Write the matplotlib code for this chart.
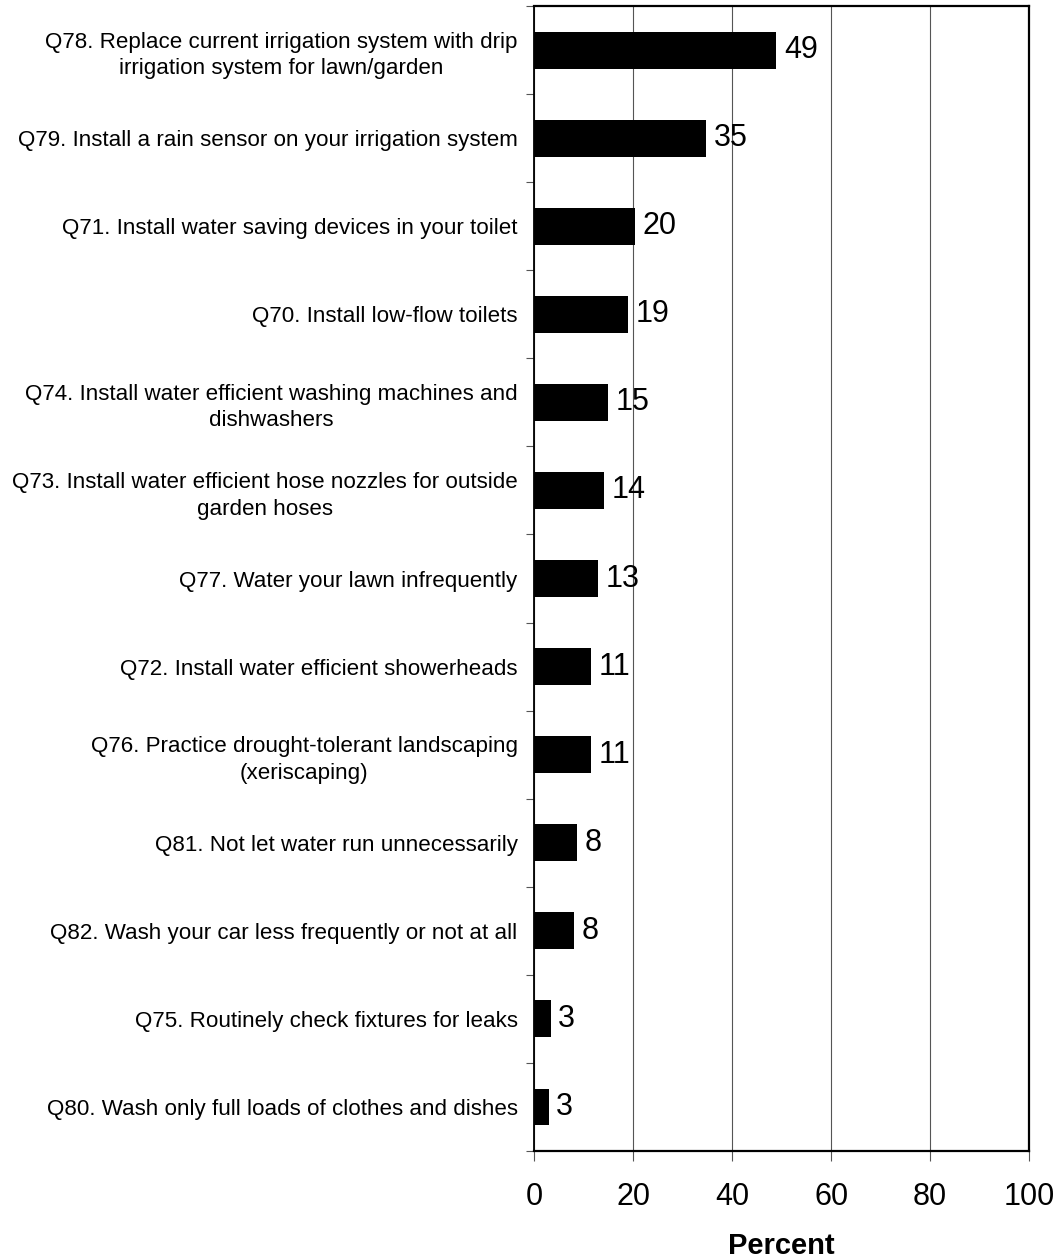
import numpy as np
import matplotlib
matplotlib.use('Agg')
import matplotlib.pyplot as plt
from matplotlib.ticker import FixedLocator


# survey items, top to bottom
questions = [
    'Q78. Replace current irrigation system with drip\nirrigation system for lawn/garden',
    'Q79. Install a rain sensor on your irrigation system',
    'Q71. Install water saving devices in your toilet',
    'Q70. Install low-flow toilets',
    'Q74. Install water efficient washing machines and\ndishwashers',
    'Q73. Install water efficient hose nozzles for outside\ngarden hoses',
    'Q77. Water your lawn infrequently',
    'Q72. Install water efficient showerheads',
    'Q76. Practice drought-tolerant landscaping\n(xeriscaping)',
    'Q81. Not let water run unnecessarily',
    'Q82. Wash your car less frequently or not at all',
    'Q75. Routinely check fixtures for leaks',
    'Q80. Wash only full loads of clothes and dishes',
]
percent = [48.9, 34.8, 20.3, 18.9, 14.9, 14.0, 12.8, 11.4, 11.4, 8.6, 8.0, 3.3, 2.9]
value_labels = ['49', '35', '20', '19', '15', '14', '13', '11', '11', '8', '8', '3', '3']
xticks = [0, 20, 40, 60, 80, 100]

plt.rcParams['font.family'] = ['Liberation Sans', 'DejaVu Sans']

fig = plt.figure(figsize=(10.58, 12.57), dpi=100)
ax = fig.add_axes([0.505, 0.0843, 0.4676, 0.9109])

y = np.arange(len(questions))
ax.barh(y, percent, height=0.42, color='black', zorder=3)

for yi, v, lab in zip(y, percent, value_labels):
    ax.annotate(lab, (v, yi), xytext=(5.5, 0), textcoords='offset points',
                va='center', ha='left', fontsize=22, zorder=4)

ax.set_xlim(0, 100)
ax.set_ylim(len(questions) - 0.5, -0.5)

ax.set_xticks(xticks)
ax.set_xticklabels([str(t) for t in xticks], fontsize=22)
ax.set_yticks(y)
ax.set_yticklabels(questions, fontsize=16.1, multialignment='center', linespacing=1.35)
ax.yaxis.set_minor_locator(FixedLocator(np.arange(-0.5, len(questions), 1.0)))

ax.tick_params(axis='y', which='major', length=0, pad=12)
ax.tick_params(axis='y', which='minor', length=6, width=0.8, color='#555555', direction='out')
ax.tick_params(axis='x', which='major', length=7, width=0.8, color='#555555', direction='out', pad=15)

ax.xaxis.grid(True, color='#555555', linewidth=0.8, zorder=0)
ax.set_axisbelow(True)

for side in ['top', 'right', 'bottom']:
    ax.spines[side].set_linewidth(1.6)
ax.spines['left'].set_linewidth(1.3)

# axis title sits on its baseline just above the bottom edge
ax.set_xlabel('Percent', fontsize=21, fontweight='bold', va='baseline')
ax.xaxis.set_label_coords(0.5, -0.0895)

fig.savefig('out.png', dpi=100)
